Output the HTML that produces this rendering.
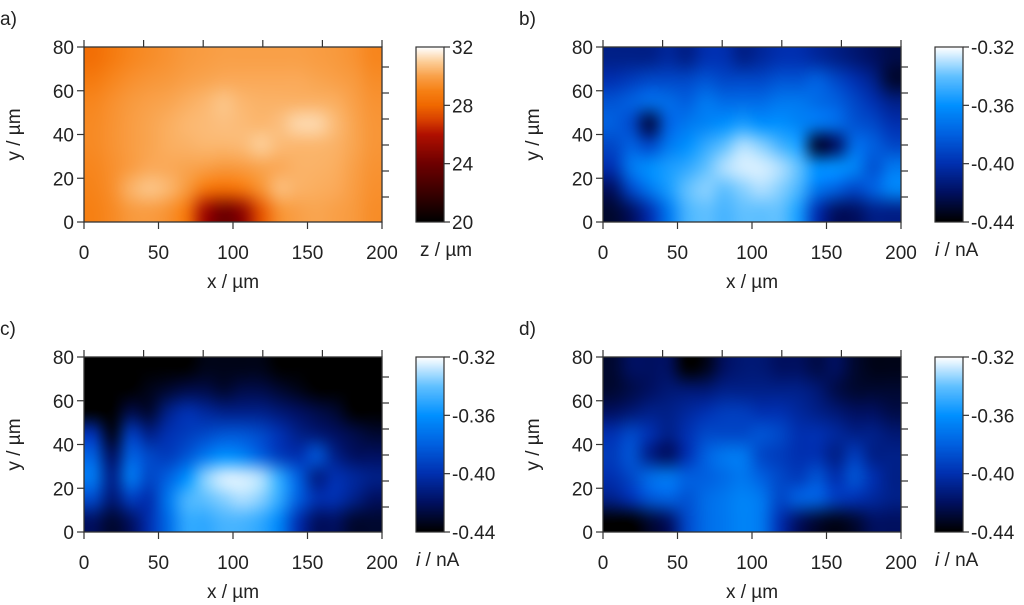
<!DOCTYPE html>
<html><head><meta charset="utf-8">
<style>
html,body{margin:0;padding:0;background:#fff;}
#root{position:relative;width:1024px;height:605px;overflow:hidden;font-family:"Liberation Sans",sans-serif;}
canvas{position:absolute;}
svg{position:absolute;left:0;top:0;}
text{font-family:"Liberation Sans",sans-serif;fill:#222;font-size:19px;}
</style></head>
<body>
<div id="root">
<svg id="ov" width="1024" height="605"></svg>
</div>
<script>
const xCells=[6.25,18.75,31.25,43.75,56.25,68.75,81.25,93.75,106.25,118.75,131.25,143.75,156.25,168.75,181.25,193.75];
const yCells=[75,65,55,45,35,25,15,5];
const xTicks=[0,50,100,150,200];
const yTicks=[0,20,40,60,80];
const zTicks=[20,24,28,32];
const iTicks=[-0.44,-0.40,-0.36,-0.32];
const iTickLabels=["-0.44","-0.40","-0.36","-0.32"];
const zA=[
[28.3,28.8,29.2,29.4,29.6,29.8,29.9,30,30,30,30,30,29.9,29.8,29.6,29.2],
[28.8,29.2,29.5,29.7,29.8,30,30.1,30.2,30.2,30.2,30.2,30.2,30.1,30,29.8,29.4],
[29.2,29.5,29.8,30,30.1,30.3,30.5,30.8,30.5,30.4,30.4,30.4,30.4,30.3,30,29.6],
[29.3,29.6,29.9,30.1,30.3,30.5,30.6,30.7,30.6,30.5,30.7,31.2,31.2,30.6,30.1,29.7],
[29.3,29.6,29.9,30.1,30.3,30.4,30.5,30.5,30.6,31,30.6,30.5,30.5,30.4,30.1,29.7],
[29.2,29.5,29.9,30.2,30.2,30.1,30,29.8,29.9,30.1,30.2,30.4,30.4,30.3,30,29.6],
[29.1,29.5,30.4,30.8,30.5,29.8,28.6,28.2,28.6,29.6,30.6,30.4,30.3,30.2,29.9,29.5],
[29,29.3,29.8,29.9,29.6,28.6,25.5,24,25,27.5,29.6,30,30.1,30,29.8,29.4]];
const iB=[
[-0.41,-0.41,-0.41,-0.405,-0.41,-0.40,-0.40,-0.41,-0.405,-0.40,-0.40,-0.405,-0.41,-0.415,-0.42,-0.425],
[-0.40,-0.395,-0.39,-0.39,-0.39,-0.385,-0.39,-0.39,-0.39,-0.385,-0.385,-0.38,-0.39,-0.40,-0.41,-0.43],
[-0.385,-0.38,-0.375,-0.375,-0.38,-0.37,-0.375,-0.375,-0.375,-0.37,-0.37,-0.375,-0.38,-0.39,-0.40,-0.41],
[-0.38,-0.39,-0.425,-0.38,-0.37,-0.365,-0.36,-0.355,-0.36,-0.36,-0.365,-0.37,-0.375,-0.385,-0.39,-0.40],
[-0.39,-0.38,-0.39,-0.37,-0.36,-0.35,-0.34,-0.33,-0.335,-0.345,-0.355,-0.43,-0.42,-0.375,-0.38,-0.39],
[-0.40,-0.37,-0.36,-0.355,-0.35,-0.34,-0.33,-0.325,-0.325,-0.33,-0.34,-0.36,-0.36,-0.365,-0.385,-0.37],
[-0.42,-0.39,-0.37,-0.355,-0.34,-0.335,-0.34,-0.335,-0.33,-0.335,-0.345,-0.37,-0.38,-0.39,-0.38,-0.365],
[-0.43,-0.42,-0.40,-0.37,-0.345,-0.34,-0.345,-0.34,-0.34,-0.34,-0.355,-0.40,-0.42,-0.42,-0.41,-0.41]];
const iC=[
[-0.44,-0.44,-0.44,-0.44,-0.44,-0.44,-0.435,-0.435,-0.435,-0.435,-0.44,-0.44,-0.44,-0.44,-0.44,-0.44],
[-0.44,-0.44,-0.44,-0.435,-0.43,-0.425,-0.425,-0.43,-0.425,-0.425,-0.43,-0.435,-0.44,-0.44,-0.44,-0.44],
[-0.44,-0.44,-0.425,-0.43,-0.41,-0.40,-0.405,-0.41,-0.41,-0.41,-0.415,-0.42,-0.425,-0.43,-0.44,-0.44],
[-0.40,-0.435,-0.395,-0.41,-0.40,-0.395,-0.39,-0.385,-0.385,-0.39,-0.40,-0.41,-0.415,-0.42,-0.425,-0.43],
[-0.38,-0.42,-0.38,-0.39,-0.395,-0.385,-0.37,-0.36,-0.365,-0.38,-0.395,-0.40,-0.385,-0.41,-0.42,-0.42],
[-0.37,-0.41,-0.37,-0.39,-0.38,-0.36,-0.335,-0.325,-0.325,-0.33,-0.35,-0.38,-0.41,-0.40,-0.405,-0.41],
[-0.39,-0.415,-0.395,-0.40,-0.37,-0.345,-0.34,-0.335,-0.33,-0.335,-0.35,-0.38,-0.40,-0.40,-0.41,-0.42],
[-0.42,-0.43,-0.42,-0.40,-0.375,-0.35,-0.35,-0.345,-0.345,-0.35,-0.365,-0.40,-0.42,-0.42,-0.43,-0.43]];
const iD=[
[-0.43,-0.42,-0.42,-0.42,-0.44,-0.435,-0.42,-0.415,-0.415,-0.42,-0.42,-0.425,-0.42,-0.43,-0.435,-0.435],
[-0.43,-0.425,-0.42,-0.415,-0.415,-0.415,-0.41,-0.41,-0.41,-0.41,-0.41,-0.415,-0.425,-0.43,-0.43,-0.43],
[-0.42,-0.415,-0.41,-0.41,-0.405,-0.40,-0.395,-0.395,-0.40,-0.40,-0.405,-0.41,-0.415,-0.42,-0.42,-0.425],
[-0.40,-0.39,-0.40,-0.41,-0.40,-0.39,-0.39,-0.39,-0.385,-0.39,-0.40,-0.40,-0.405,-0.41,-0.41,-0.415],
[-0.395,-0.385,-0.41,-0.42,-0.40,-0.38,-0.37,-0.37,-0.39,-0.395,-0.40,-0.40,-0.41,-0.395,-0.41,-0.41],
[-0.40,-0.39,-0.375,-0.37,-0.38,-0.38,-0.375,-0.37,-0.38,-0.39,-0.395,-0.385,-0.40,-0.385,-0.40,-0.41],
[-0.41,-0.40,-0.385,-0.38,-0.385,-0.375,-0.37,-0.365,-0.37,-0.39,-0.38,-0.38,-0.395,-0.40,-0.405,-0.41],
[-0.44,-0.44,-0.43,-0.42,-0.39,-0.375,-0.37,-0.365,-0.37,-0.40,-0.42,-0.43,-0.435,-0.43,-0.42,-0.42]];

const orangeStops=[[0,[0,0,0]],[2/12,[58,0,0]],[4/12,[110,0,0]],[6/12,[176,16,0]],[7/12,[216,64,0]],[8/12,[240,104,0]],[9/12,[246,128,20]],[10/12,[249,160,72]],[11/12,[252,205,150]],[1,[255,255,255]]];
const blueStops=[[0,[0,0,0]],[1/6,[0,16,96]],[2/6,[0,48,176]],[3/6,[0,96,224]],[4/6,[0,144,255]],[5/6,[96,192,255]],[1,[255,255,255]]];
function cmap(stops,t){t=Math.max(0,Math.min(1,t));for(let k=1;k<stops.length;k++){if(t<=stops[k][0]){const a=stops[k-1],b=stops[k];const f=(t-a[0])/(b[0]-a[0]);return a[1].map((v,j)=>Math.round(v+(b[1][j]-v)*f));}}return stops[stops.length-1][1];}

const root=document.getElementById('root');
const ov=document.getElementById('ov');
const NS='http://www.w3.org/2000/svg';
function el(tag,attrs,txt){const e=document.createElementNS(NS,tag);for(const k in attrs)e.setAttribute(k,attrs[k]);if(txt!==undefined)e.textContent=txt;ov.appendChild(e);return e;}

const PW=298,PH=175;
function panel(ox,oy,grid,vmin,vmax,stops,letter,cbTicks,cbLabels,cbTitle,italic){
  const xs=v=>ox+v/200*PW, ys=v=>oy+PH-v/80*PH;
  const small=document.createElement('canvas');small.width=xCells.length;small.height=yCells.length;
  const sc=small.getContext('2d');const img=sc.createImageData(xCells.length,yCells.length);
  yCells.forEach((yv,r)=>xCells.forEach((xv,c)=>{const col=cmap(stops,(grid[r][c]-vmin)/(vmax-vmin));const p=(r*xCells.length+c)*4;img.data[p]=col[0];img.data[p+1]=col[1];img.data[p+2]=col[2];img.data[p+3]=255;}));
  sc.putImageData(img,0,0);
  const cv=document.createElement('canvas');cv.width=PW;cv.height=PH;
  cv.style.left=xs(0)+'px';cv.style.top=ys(80)+'px';
  
  
  const ctx=cv.getContext('2d');ctx.imageSmoothingEnabled=true;ctx.imageSmoothingQuality='high';
  ctx.drawImage(small,0,0,PW,PH);
  root.insertBefore(cv,ov);
  const cbx=ox+332,cbw=28;
  const cb=document.createElement('canvas');cb.width=cbw;cb.height=PH;cb.style.left=cbx+'px';cb.style.top=oy+'px';
  
  
  const cc=cb.getContext('2d');
  for(let y=0;y<PH;y++){const col=cmap(stops,1-y/(PH-1));cc.fillStyle='rgb('+col.join(',')+')';cc.fillRect(0,y,cbw,1);}
  root.insertBefore(cb,ov);
  el('rect',{x:cbx,y:oy,width:cbw,height:PH,fill:'none',stroke:'#333','stroke-width':1.2,});
  cbTicks.forEach((t,k)=>{const y=oy+PH-(t-vmin)/(vmax-vmin)*PH;
    el('line',{x1:cbx+cbw,x2:cbx+cbw+6,y1:y,y2:y,stroke:'#333','stroke-width':1.2});
    const tx=el('text',{x:cbx+cbw+8,y:y+7},cbLabels[k]);});
  const ct=el('text',{x:cbx+(italic?0:4),y:oy+PH+34});
  if(italic){const s=document.createElementNS(NS,'tspan');s.setAttribute('font-style','italic');s.textContent='i';ct.appendChild(s);ct.appendChild(document.createTextNode(' / nA'));}
  else ct.textContent=cbTitle;
  
  el('rect',{x:xs(0),y:ys(80),width:PW,height:PH,fill:'none',stroke:'#333','stroke-width':1.3,});
  xTicks.forEach(t=>{el('line',{x1:xs(t),x2:xs(t),y1:ys(0),y2:ys(0)+7,stroke:'#333','stroke-width':1.2});
    const tx=el('text',{x:xs(t),y:ys(0)+37,'text-anchor':'middle'},String(t));});
  for(let t=0;t<=200;t+=40)el('line',{x1:xs(t),x2:xs(t),y1:ys(80),y2:ys(80)-7,stroke:'#333','stroke-width':1.2});
  yTicks.forEach(t=>{el('line',{x1:xs(0)-7,x2:xs(0),y1:ys(t),y2:ys(t),stroke:'#333','stroke-width':1.2});
    const tx=el('text',{x:xs(0)-10,y:ys(t)+7,'text-anchor':'end'},String(t));});
  for(let k=1;k<=6;k++){const y=oy+20+k*26-26;el('line',{x1:xs(200),x2:xs(200)+7,y1:y,y2:y,stroke:'#333','stroke-width':1.2});}
  const xl=el('text',{x:xs(100),y:ys(0)+66,'text-anchor':'middle'},'x / µm');
  const yl=el('text',{x:0,y:0,'text-anchor':'middle',transform:'translate('+(ox-64)+','+(oy+PH/2)+') rotate(-90)'},'y / µm');
  const pl=el('text',{x:ox-84,y:oy-22,'font-size':'24'},letter+')');
}
panel(84,47,zA,20,32,orangeStops,'a',zTicks,zTicks.map(String),'z / µm',false);
panel(603,47,iB,-0.44,-0.32,blueStops,'b',iTicks,iTickLabels,'',true);
panel(84,357,iC,-0.44,-0.32,blueStops,'c',iTicks,iTickLabels,'',true);
panel(603,357,iD,-0.44,-0.32,blueStops,'d',iTicks,iTickLabels,'',true);
</script>
</body></html>
